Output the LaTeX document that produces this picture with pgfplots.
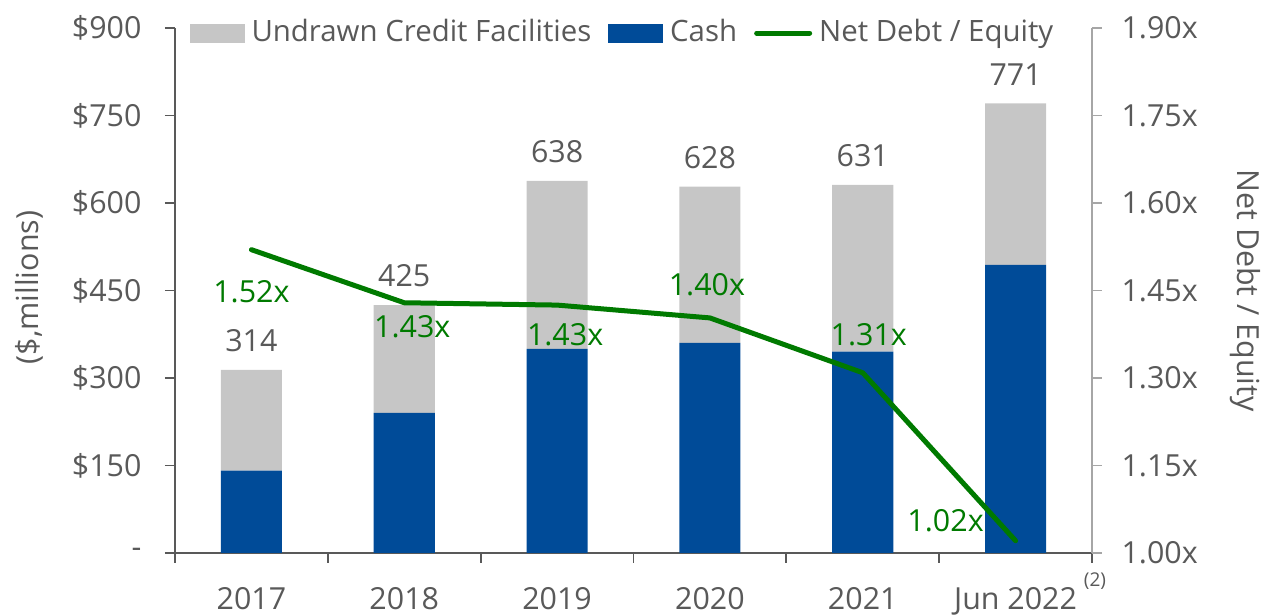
\documentclass[border=0pt]{standalone}
\usepackage{pgfplots}
\usepackage{pgfplotstable}
\pgfplotsset{compat=1.18}
\usepackage{fontspec}
\setmainfont{Open Sans}
\definecolor{txtgray}{HTML}{595959}
\definecolor{axgray}{HTML}{595959}
\definecolor{raxgray}{HTML}{A6A6A6}
\definecolor{undrawn}{HTML}{C6C6C6}
\definecolor{cashblue}{HTML}{004B98}
\definecolor{ndgreen}{HTML}{007A00}

\pgfplotstableread{
x cash undrawn total ratio
0 141 173 314 1.520
1 240 185 425 1.429
2 350 288 638 1.425
3 360 268 628 1.403
4 345 286 631 1.309
5 494 277 771 1.021
}\data

\begin{document}
\fontsize{15.2}{18}\selectfont
\begin{tikzpicture}[font=\fontsize{15.2}{18}\selectfont]
\begin{axis}[name=ax,
  scale only axis, width=458.5pt, height=262.5pt,
  xmin=-0.5, xmax=5.5, ymin=0, ymax=900,
  ybar stacked, bar width=0.4,
  axis x line*=bottom, axis y line*=left,
  axis line style={axgray, line width=0.9pt},
  every tick/.style={axgray, line width=0.9pt},
  tick align=outside, major tick length=5pt,
  xtick={-0.5,0.5,...,5.5},
  x tick label as interval,
  xticklabels={2017,2018,2019,2020,2021,Jun 2022},
  xticklabel style={yshift=-7pt},
  ytick={0,150,...,900},
  yticklabels={-,\$150,\$300,\$450,\$600,\$750,\$900},
  yticklabel style={xshift=-6.5pt},
  tick label style={text=txtgray},
  legend style={at={(rel axis cs:0.5,1)}, anchor=center, yshift=-2.5pt, xshift=-6pt,
    legend columns=-1, draw=none, fill=none, text=txtgray,
    font=\fontsize{14.7}{17}\selectfont,
    nodes={inner sep=0pt},
    /tikz/every odd column/.append style={column sep=3.5pt},
    /tikz/every even column/.append style={column sep=8.5pt}},
  clip=false,
]
\addlegendimage{legend image code/.code={\fill[undrawn] (0pt,-4.5pt) rectangle (27pt,4.5pt);}}
\addlegendentry{Undrawn Credit Facilities}
\addlegendimage{legend image code/.code={\fill[cashblue] (0pt,-4.5pt) rectangle (27pt,4.5pt);}}
\addlegendentry{Cash}
\addlegendimage{legend image code/.code={\draw[ndgreen, line width=2.5pt, line cap=round] (1.25pt,0pt) -- (27.75pt,0pt);}}
\addlegendentry{Net Debt / Equity}
\addplot[fill=cashblue, draw=none, forget plot] table[x=x, y=cash] {\data};
\addplot[fill=undrawn, draw=none, forget plot] table[x=x, y=undrawn] {\data};
\node[text=txtgray] at (axis cs:0,314) [yshift=14.5pt] {314};
\node[text=txtgray] at (axis cs:1,425) [yshift=14.5pt] {425};
\node[text=txtgray] at (axis cs:2,638) [yshift=14.5pt] {638};
\node[text=txtgray] at (axis cs:3,628) [yshift=14.5pt] {628};
\node[text=txtgray] at (axis cs:4,631) [yshift=14.5pt] {631};
\node[text=txtgray] at (axis cs:5,771) [yshift=14.5pt] {771};
\end{axis}
\begin{axis}[
  scale only axis, width=458.5pt, height=262.5pt,
  xmin=-0.5, xmax=5.5, ymin=1, ymax=1.9,
  axis x line=none, axis y line*=right,
  axis line style={raxgray, line width=0.9pt},
  every tick/.style={raxgray, line width=0.9pt},
  tick align=outside, major tick length=5pt,
  ytick={1,1.15,1.3,1.45,1.6,1.75,1.9},
  yticklabels={1.00x,1.15x,1.30x,1.45x,1.60x,1.75x,1.90x},
  yticklabel style={xshift=4.5pt},
  tick label style={text=txtgray},
  clip=false,
]
\addplot[ndgreen, line width=2.5pt, line cap=round, line join=round, mark=none] table[x=x, y=ratio] {\data};
\node[text=ndgreen] at (axis cs:0,1.52) [yshift=-21pt] {1.52x};
\node[text=ndgreen] at (axis cs:1,1.429) [xshift=4pt, yshift=-12pt] {1.43x};
\node[text=ndgreen] at (axis cs:2,1.425) [xshift=4pt, yshift=-15pt] {1.43x};
\node[text=ndgreen] at (axis cs:3,1.403) [xshift=-1.5pt, yshift=16.5pt] {1.40x};
\node[text=ndgreen] at (axis cs:4,1.309) [xshift=3pt, yshift=19pt] {1.31x};
\node[text=ndgreen] at (axis cs:5,1.021) [xshift=-35pt, yshift=10pt] {1.02x};
\end{axis}
\node[rotate=90, text=txtgray] at ([xshift=-73pt, yshift=1.5pt]ax.west) {(\$,millions)};
\node[rotate=-90, text=txtgray] at ([xshift=76.5pt]ax.east) {Net Debt / Equity};
\node[text=txtgray, font=\fontsize{9.5}{11}\selectfont] at ([xshift=1.5pt, yshift=-14pt]ax.south east) {(2)};
\pgfresetboundingbox
\useasboundingbox ([xshift=-87.5pt,yshift=-31pt]ax.south west) rectangle ([xshift=545.5pt,yshift=276.5pt]ax.south west);
\end{tikzpicture}
\end{document}
